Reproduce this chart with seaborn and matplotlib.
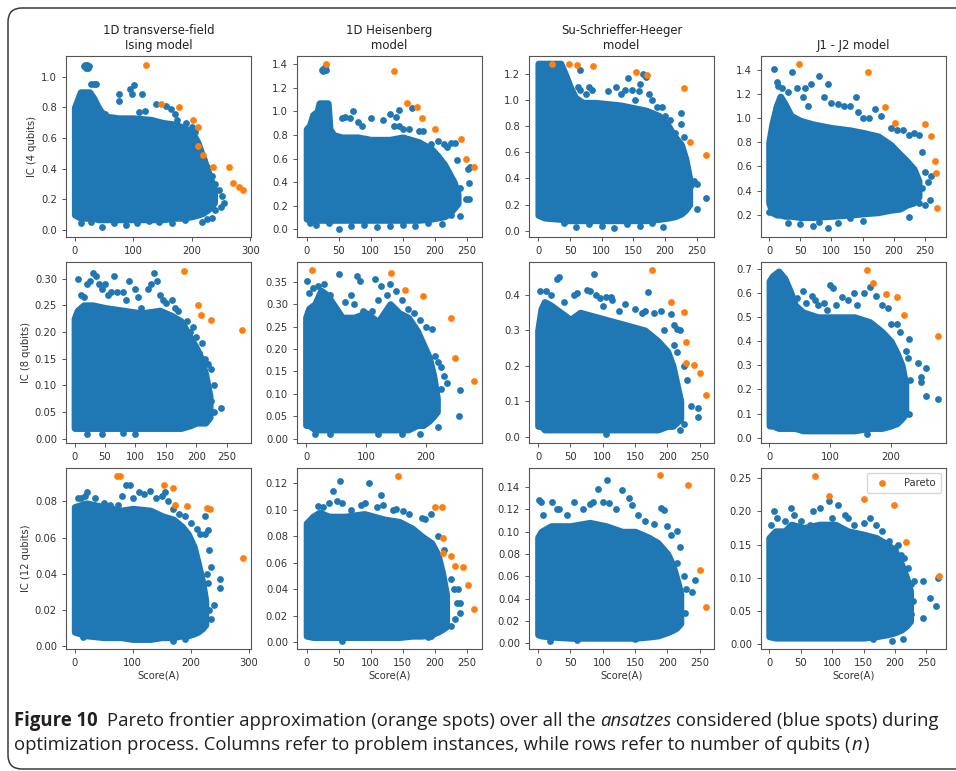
import numpy as np
import pandas as pd
import matplotlib
matplotlib.use("Agg")
import matplotlib.pyplot as plt
import seaborn as sns
from matplotlib import font_manager
from matplotlib.patches import FancyBboxPatch
from matplotlib.transforms import IdentityTransform

# ---------------------------------------------------------------- data
models = ["1D transverse-field\nIsing model", "1D Heisenberg\nmodel",
          "Su-Schrieffer-Heeger\nmodel", "J1 - J2 model"]
row_labels = ["IC (4 qubits)", "IC (8 qubits)", "IC (12 qubits)"]
x_label = "Score(A)"
legend_label = "Pareto"

# dense core of each cloud: (score, IC lower edge, IC upper edge)
ising4_core = [(0, .10, .80), (5, .09, .85), (10, .08, .90), (25, .08, .90), (32, .08, .86),
               (40, .07, .80), (45, .07, .77), (55, .07, .74), (75, .07, .73), (100, .07, .73),
               (130, .07, .72), (150, .07, .70), (170, .08, .69), (185, .08, .67), (200, .09, .64),
               (210, .10, .57), (218, .11, .48), (226, .13, .40), (232, .15, .33), (238, .18, .26)]
heis4_core = [(0, .09, .85), (5, .08, .88), (10, .08, .97), (17, .08, 1.0), (20, .08, 1.07),
              (33, .08, 1.07), (36, .08, .85), (42, .08, .80), (55, .08, .78), (80, .08, .78),
              (100, .08, .76), (130, .08, .76), (150, .08, .78), (175, .08, .74), (195, .09, .68),
              (205, .10, .62), (215, .11, .55), (222, .13, .48), (230, .18, .40), (236, .22, .30)]
ssh4_core = [(0, .12, 1.28), (10, .10, 1.28), (35, .09, 1.28), (42, .08, 1.20), (50, .08, 1.10),
             (58, .08, 1.02), (70, .08, .98), (90, .08, .98), (110, .08, .97), (130, .08, .96),
             (150, .08, .94), (170, .08, .92), (190, .09, .88), (205, .10, .80), (215, .11, .72),
             (225, .13, .66), (232, .16, .55), (238, .20, .40)]
j4_core = [(0, .30, .80), (5, .22, .95), (12, .20, 1.10), (18, .20, 1.18), (25, .19, 1.12),
           (35, .19, 1.02), (50, .18, .98), (70, .18, .95), (100, .19, .92), (130, .20, .90),
           (150, .21, .88), (175, .22, .85), (195, .24, .78), (210, .25, .70), (220, .28, .65),
           (232, .30, .58), (240, .35, .48)]
ising8_core = [(0, .02, .225), (5, .02, .24), (15, .02, .25), (30, .02, .25), (50, .02, .245),
               (80, .02, .24), (110, .02, .235), (140, .02, .24), (160, .02, .23), (175, .02, .22),
               (190, .025, .19), (200, .03, .17), (208, .03, .15), (215, .03, .12), (222, .04, .08)]
heis8_core = [(0, .03, .27), (5, .03, .29), (15, .02, .30), (25, .02, .33), (35, .02, .32),
              (45, .02, .30), (60, .02, .27), (80, .02, .27), (100, .02, .28), (120, .02, .26),
              (140, .02, .30), (155, .02, .28), (170, .02, .27), (185, .03, .24), (195, .03, .21),
              (205, .04, .18), (212, .05, .14), (218, .06, .09)]
ssh8_core = [(0, .03, .30), (5, .03, .36), (10, .02, .38), (20, .02, .37), (35, .02, .35),
             (50, .02, .33), (65, .02, .35), (85, .02, .34), (105, .02, .33), (125, .02, .32),
             (145, .02, .31), (165, .02, .30), (185, .02, .27), (200, .03, .24), (208, .03, .20),
             (214, .04, .15), (220, .05, .10)]
j8_core = [(0, .05, .65), (5, .05, .67), (15, .04, .69), (25, .04, .66), (35, .04, .60),
           (42, .04, .55), (55, .03, .52), (80, .03, .50), (110, .03, .50), (140, .03, .50),
           (165, .04, .48), (185, .04, .44), (200, .05, .40), (210, .06, .35), (218, .08, .30),
           (224, .10, .22)]
ising12_core = [(0, .008, .077), (20, .006, .079), (50, .005, .077), (80, .005, .075),
                (100, .004, .076), (130, .004, .075), (150, .005, .072), (170, .005, .070),
                (185, .006, .066), (195, .006, .062), (205, .007, .055), (212, .008, .046),
                (220, .010, .035), (225, .012, .025)]
heis12_core = [(0, .005, .090), (10, .004, .095), (20, .004, .098), (35, .004, .095),
               (60, .004, .095), (90, .004, .097), (120, .004, .093), (145, .004, .091),
               (165, .005, .086), (180, .005, .080), (195, .006, .075), (205, .008, .066),
               (212, .010, .052), (218, .012, .036)]
ssh12_core = [(0, .008, .095), (5, .007, .100), (20, .006, .105), (50, .005, .105),
              (80, .005, .108), (105, .005, .105), (130, .005, .100), (150, .005, .100),
              (170, .006, .095), (185, .007, .090), (200, .010, .080), (208, .012, .070),
              (214, .014, .058), (220, .018, .045)]
j12_core = [(0, .012, .16), (10, .010, .17), (25, .010, .17), (35, .010, .18), (55, .010, .175),
            (80, .010, .18), (105, .010, .18), (125, .010, .17), (150, .010, .165),
            (170, .012, .16), (188, .015, .15), (200, .018, .14), (210, .022, .12),
            (218, .028, .10), (224, .035, .08)]

# scattered ansatzes outside the dense core: (score, IC)
ising4_blue = [(15, 1.07), (18, 1.08), (21, 1.08), (24, 1.07), (19, 1.06), (23, 1.06),
               (28, .955), (33, .955), (37, .955), (44, .77), (52, .76), (75, .89), (75, .84),
               (95, .92), (101, .95), (98, .89), (115, .89), (110, .77), (120, .78), (138, .82),
               (155, .81), (164, .79), (172, .76), (175, .72), (190, .70), (200, .67), (206, .64),
               (203, .58), (212, .52), (220, .455), (226, .41), (235, .35), (240, .30), (246, .26),
               (252, .22), (255, .18), (249, .15), (240, .13), (235, .08), (226, .07),
               (10, .044), (27, .054), (47, .021), (67, .044), (87, .032), (106, .044), (126, .06),
               (144, .054), (166, .044), (189, .065), (218, .054)]
heis4_blue = [(25, 1.36), (28, 1.38), (30, 1.35), (26, 1.34), (24, 1.35), (55, .94), (60, .95),
              (68, .94), (73, 1.0), (80, .91), (87, .88), (100, .94), (120, .93), (130, .98),
              (140, .95), (145, 1.01), (136, .88), (145, .88), (150, .85), (165, 1.03), (160, .85),
              (175, .83), (182, .83), (195, .72), (205, .75), (215, .72), (220, .70), (225, .73),
              (232, .73), (235, .59), (252, .51), (256, .53), (254, .39), (240, .35), (249, .26),
              (253, .26), (239, .11), (225, .12), (212, .045), (5, .05), (15, .04), (35, .05),
              (50, .0), (70, .03), (90, .04), (110, .02), (130, .03), (150, .04), (170, .03),
              (190, .05)]
ssh4_blue = [(66, 1.23), (62, 1.10), (66, 1.08), (75, 1.05), (80, 1.10), (85, 1.08), (110, 1.07),
             (122, 1.10), (130, 1.05), (136, 1.08), (142, 1.17), (148, 1.08), (158, 1.07),
             (160, 1.12), (165, 1.20), (170, 1.18), (152, 1.0), (175, 1.05), (180, 1.0), (187, .95),
             (195, .95), (200, .88), (207, .85), (215, .75), (225, .90), (225, .82), (230, .72),
             (245, .38), (250, .36), (250, .17), (264, .25), (240, .35), (235, .25),
             (5, .12), (10, .11), (18, .10), (40, .06), (60, .03), (80, .05), (100, .04),
             (120, .02), (140, .05), (160, .04), (180, .06), (196, .03)]
j4_blue = [(8, 1.41), (12, 1.30), (15, 1.27), (20, 1.25), (30, 1.22), (37, 1.38), (45, 1.25),
           (55, 1.18), (58, 1.25), (62, 1.10), (68, 1.28), (80, 1.35), (88, 1.18), (95, 1.28),
           (100, 1.13), (110, 1.12), (120, 1.10), (130, 1.10), (140, 1.18), (143, 1.05), (150, 1.0),
           (160, 1.0), (170, 1.08), (180, 1.02), (195, .92), (205, .90), (215, .90), (225, .86),
           (232, .88), (240, .86), (245, .72), (250, .55), (255, .47), (260, .52), (258, .32),
           (250, .28), (240, .30), (225, .18), (245, .42), (30, .13), (50, .12), (70, .11),
           (80, .14), (95, .09), (110, .13), (130, .17), (150, .15), (0, .22), (5, .25)]
ising8_blue = [(5, .30), (10, .27), (15, .265), (20, .29), (25, .295), (30, .31), (35, .305),
               (40, .29), (45, .28), (50, .29), (55, .27), (60, .275), (65, .305), (70, .275),
               (80, .275), (85, .26), (90, .295), (100, .28), (105, .265), (110, .245), (120, .28),
               (125, .29), (130, .31), (135, .295), (140, .27), (145, .26), (150, .255), (160, .26),
               (165, .245), (170, .24), (185, .22), (190, .20), (195, .21), (200, .19), (205, .16),
               (210, .18), (215, .15), (220, .14), (225, .13), (230, .10), (225, .07), (230, .05),
               (240, .058), (215, .035), (20, .008), (45, .008), (100, .008), (80, .01)]
heis8_blue = [(2, .352), (5, .325), (12, .335), (20, .34), (30, .345), (35, .32), (40, .32),
              (55, .367), (65, .305), (75, .32), (80, .30), (85, .362), (90, .352), (95, .285),
              (110, .285), (115, .355), (120, .31), (125, .34), (135, .32), (140, .345), (150, .33),
              (160, .31), (170, .29), (180, .28), (190, .265), (200, .25), (210, .245), (215, .185),
              (220, .17), (225, .16), (230, .14), (235, .125), (225, .11), (257, .109), (255, .051),
              (220, .025), (215, .06), (190, .01), (160, .01), (120, .01), (15, .01), (40, .01)]
ssh8_blue = [(3, .41), (12, .41), (20, .40), (30, .445), (33, .45), (40, .38), (55, .40), (60, .405),
             (75, .415), (80, .41), (87, .46), (90, .40), (95, .39), (100, .37), (105, .395),
             (112, .395), (115, .385), (125, .355), (135, .375), (150, .36), (160, .35), (165, .355),
             (170, .407), (180, .35), (190, .355), (195, .30), (205, .345), (210, .315), (215, .305),
             (220, .30), (210, .26), (215, .24), (225, .20), (230, .16), (236, .087), (247, .08),
             (247, .055), (225, .035), (220, .02), (105, .007)]
j8_blue = [(45, .58), (55, .61), (60, .56), (70, .59), (75, .57), (80, .55), (90, .56), (95, .53),
           (100, .635), (105, .62), (110, .55), (120, .585), (130, .57), (140, .60), (145, .55),
           (155, .60), (165, .625), (175, .59), (185, .55), (195, .54), (200, .47), (210, .47),
           (215, .44), (225, .36), (230, .41), (228, .33), (220, .22), (232, .24), (245, .31),
           (250, .25), (250, .23), (258, .29), (258, .175), (277, .16), (230, .10), (160, .015)]
ising12_blue = [(5, .082), (10, .082), (18, .083), (22, .085), (35, .082), (50, .079), (60, .078),
                (75, .078), (82, .083), (88, .089), (95, .089), (100, .082), (110, .085),
                (120, .084), (130, .086), (140, .082), (150, .083), (155, .085), (160, .080),
                (170, .076), (180, .073), (190, .072), (200, .068), (210, .065), (215, .062),
                (225, .072), (225, .062), (230, .064), (232, .053), (235, .044), (228, .040),
                (230, .035), (250, .037), (250, .032), (240, .023), (232, .020), (235, .015),
                (215, .010), (190, .004), (170, .003), (15, .005)]
heis12_blue = [(3, .091), (10, .095), (18, .103), (25, .102), (35, .105), (42, .114), (48, .107),
               (52, .122), (55, .105), (70, .100), (85, .104), (92, .105), (97, .120), (110, .102),
               (117, .111), (120, .104), (135, .100), (140, .101), (150, .099), (160, .097),
               (180, .094), (185, .093), (195, .097), (205, .080), (215, .070), (225, .048),
               (230, .040), (237, .040), (235, .030), (240, .030), (240, .022), (232, .018),
               (225, .012), (210, .010), (195, .005), (190, .004), (55, .001)]
ssh12_blue = [(2, .128), (5, .127), (8, .115), (22, .127), (30, .120), (32, .120), (45, .115),
              (55, .127), (70, .120), (80, .125), (85, .127), (92, .138), (100, .127), (106, .146),
              (110, .126), (120, .120), (130, .137), (140, .130), (145, .124), (155, .115),
              (165, .110), (180, .107), (190, .121), (195, .119), (200, .105), (205, .097),
              (215, .101), (220, .086), (215, .072), (225, .060), (238, .046), (229, .049),
              (243, .057), (227, .027), (215, .020), (200, .013), (150, .004), (60, .003), (18, .002)]
j12_blue = [(3, .18), (7, .20), (12, .19), (25, .185), (35, .205), (40, .195), (50, .185),
            (55, .175), (65, .18), (70, .20), (80, .205), (95, .215), (100, .19), (110, .21),
            (120, .195), (125, .19), (135, .18), (150, .183), (160, .19), (170, .18), (180, .17),
            (190, .155), (200, .145), (205, .15), (210, .135), (215, .13), (220, .115), (215, .10),
            (225, .09), (230, .095), (245, .095), (255, .07), (265, .058), (268, .10), (245, .04),
            (228, .065), (220, .05), (225, .045), (212, .008), (195, .005), (165, .008)]

# Pareto frontier approximation: (score, IC)
ising4_pareto = [(121, 1.08), (148, .82), (178, .80), (202, .72), (210, .67), (211, .55),
                 (219, .49), (236, .41), (263, .41), (271, .31), (281, .28), (287, .26)]
heis4_pareto = [(31, 1.405), (137, 1.343), (157, 1.074), (173, 1.04), (181, .94), (200, .853),
                (241, .77), (249, .594), (261, .53)]
ssh4_pareto = [(21.6, 1.276), (48, 1.276), (60.6, 1.27), (86.8, 1.26), (153.7, 1.218),
               (172, 1.19), (230, 1.09), (239.4, .68), (264.7, .58)]
j4_pareto = [(47.6, 1.449), (158.8, 1.38), (186.6, 1.09), (201.7, .958), (250.8, .949),
             (260, .852), (267, .643), (268.5, .543), (269.6, .258)]
ising8_pareto = [(179.8, .315), (202.8, .251), (208, .232), (223.6, .222), (276, .204)]
heis8_pareto = [(9.4, .3756), (141.7, .3696), (164.7, .331), (195.5, .318), (240.6, .269),
                (248.8, .179), (279, .129)]
ssh8_pareto = [(175.4, .47), (205.7, .381), (225.8, .352), (228, .268), (229.4, .207),
               (240.7, .203), (250, .181), (259.3, .118)]
j8_pareto = [(161.5, .695), (171.4, .64), (192.9, .597), (209.8, .582), (221.9, .51), (277, .423)]
ising12_pareto = [(73.3, .0942), (78, .0939), (154, .0893), (170, .0872), (173.5, .0782),
                  (193, .0774), (227.4, .0763), (233, .0758), (289, .049)]
heis12_pareto = [(142.6, .1258), (200, .1024), (212, .1019), (213.2, .0789), (213, .0675),
                 (226, .0652), (232.4, .0574), (243.8, .0569), (252.6, .0435), (261.5, .0253)]
ssh12_pareto = [(188.8, .1505), (232.5, .142), (250, .0656), (259.3, .0328)]
j12_pareto = [(73.2, .2535), (95.7, .2224), (150.3, .2184), (198.5, .2088), (216.8, .154),
              (269.8, .102)]

# axis ranges and ticks
x_limits = [[(-15, 301), (-15, 274), (-14.7, 277), (-13, 284)],
            [(-14, 290), (-15, 293), (-14, 272), (-14, 291)],
            [(-15, 303.5), (-15, 274), (-14, 272), (-13, 281)]]
y_limits = [[(-.045, 1.136), (-.065, 1.47), (-.048, 1.338), (.015, 1.516)],
            [(-.008, .331), (-.01, .394), (-.018, .493), (-.022, .729)],
            [(-.0015, .0985), (-.005, .1317), (-.005, .157), (-.007, .265)]]
x_ticks = [[[0, 100, 200, 300], [0, 50, 100, 150, 200, 250], [0, 50, 100, 150, 200, 250], [0, 50, 100, 150, 200, 250]],
           [[0, 50, 100, 150, 200, 250], [0, 100, 200], [0, 50, 100, 150, 200, 250], [0, 100, 200]],
           [[0, 100, 200, 300], [0, 50, 100, 150, 200, 250], [0, 50, 100, 150, 200, 250], [0, 50, 100, 150, 200, 250]]]
y_ticks = [[[0, .2, .4, .6, .8, 1.0], [0, .2, .4, .6, .8, 1.0, 1.2, 1.4],
            [0, .2, .4, .6, .8, 1.0, 1.2], [.2, .4, .6, .8, 1.0, 1.2, 1.4]],
           [[0, .05, .10, .15, .20, .25, .30], [0, .05, .10, .15, .20, .25, .30, .35],
            [0, .1, .2, .3, .4], [0, .1, .2, .3, .4, .5, .6, .7]],
           [[0, .02, .04, .06, .08], [0, .02, .04, .06, .08, .10, .12],
            [0, .02, .04, .06, .08, .10, .12, .14], [0, .05, .10, .15, .20, .25]]]

cores = [[ising4_core, heis4_core, ssh4_core, j4_core],
         [ising8_core, heis8_core, ssh8_core, j8_core],
         [ising12_core, heis12_core, ssh12_core, j12_core]]
blues = [[ising4_blue, heis4_blue, ssh4_blue, j4_blue],
         [ising8_blue, heis8_blue, ssh8_blue, j8_blue],
         [ising12_blue, heis12_blue, ssh12_blue, j12_blue]]
paretos = [[ising4_pareto, heis4_pareto, ssh4_pareto, j4_pareto],
           [ising8_pareto, heis8_pareto, ssh8_pareto, j8_pareto],
           [ising12_pareto, heis12_pareto, ssh12_pareto, j12_pareto]]

# caption pieces: (text, weight, style)
caption_line1 = [("Figure 10", "bold", "normal"),
                 ("Pareto frontier approximation (orange spots) over all the", "normal", "normal"),
                 ("ansatzes", "normal", "italic"),
                 ("considered (blue spots) during", "normal", "normal")]
caption_line2 = [("optimization process. Columns refer to problem instances, while rows refer "
                  "to number of qubits (", "normal", "normal"), ("n", "normal", "italic"),
                 (")", "normal", "normal")]

# ---------------------------------------------------------------- style
BLUE = "#1f77b4"
ORANGE = "#ff7f0e"
DOT_S = 24          # marker area (pt^2)
DOT_D = DOT_S ** .5  # marker diameter (pt)
W, H = 956, 771


def has_styles(fam):
    ents = [f for f in font_manager.fontManager.ttflist if f.name == fam]
    bold = any((f.weight if isinstance(f.weight, int) else 400) >= 600 or f.weight == "bold"
               for f in ents)
    ital = any(f.style == "italic" for f in ents)
    return bool(ents) and bold and ital


sns.set_style("ticks")
cap_font = next((f for f in ["Noto Sans", "Open Sans", "Liberation Sans", "DejaVu Sans"]
                 if has_styles(f)), "DejaVu Sans")
plt.rcParams.update({
    "font.family": ["DejaVu Sans"],
    "font.size": 7.2,
    "axes.edgecolor": "#555555",
    "axes.linewidth": 0.8,
    "xtick.color": "#555555",
    "ytick.color": "#555555",
    "xtick.labelcolor": "#333333",
    "ytick.labelcolor": "#333333",
    "xtick.labelsize": 7.2,
    "ytick.labelsize": 7.2,
    "xtick.major.size": 3.0,
    "ytick.major.size": 3.0,
    "xtick.major.width": 0.7,
    "ytick.major.width": 0.7,
    "axes.titlesize": 8.4,
    "axes.labelsize": 7.2,
    "axes.labelcolor": "#333333",
    "text.color": "#333333",
})

fig = plt.figure(figsize=(W / 100, H / 100), dpi=100)
fig.patch.set_facecolor("white")

col_left = [66, 297, 529, 761]
row_top = [56, 262, 468]
ax_w, ax_h = 185, 181

for r in range(3):
    for c in range(4):
        ax = fig.add_axes([col_left[c] / W, 1 - (row_top[r] + ax_h) / H, ax_w / W, ax_h / H])
        core = np.array(cores[r][c], dtype=float)
        ax.fill_between(core[:, 0], core[:, 1], core[:, 2], color=BLUE, edgecolor=BLUE,
                        linewidth=DOT_D, joinstyle="round", zorder=1)
        bdf = pd.DataFrame(blues[r][c], columns=["score", "ic"])
        sns.scatterplot(data=bdf, x="score", y="ic", color=BLUE, s=DOT_S, linewidth=0,
                        ax=ax, zorder=2, legend=False)
        pdf = pd.DataFrame(paretos[r][c], columns=["score", "ic"])
        is_leg = (r == 2 and c == 3)
        sns.scatterplot(data=pdf, x="score", y="ic", color=ORANGE, s=DOT_S, linewidth=0,
                        ax=ax, zorder=3, label=legend_label if is_leg else None)
        ax.set_xlim(*x_limits[r][c])
        ax.set_ylim(*y_limits[r][c])
        ax.set_xticks(x_ticks[r][c])
        ax.set_yticks(y_ticks[r][c])
        ax.set_xlabel(x_label if r == 2 else "", labelpad=2)
        ax.set_ylabel(row_labels[r] if c == 0 else "", labelpad=3)
        if r == 0:
            ax.set_title(models[c], pad=5, color="#222222")
        if is_leg:
            ax.legend(loc="upper right", fontsize=7.2, frameon=True, borderpad=0.5,
                      handletextpad=1.2, markerscale=1.0)
        elif ax.get_legend() is not None:
            ax.get_legend().remove()

# outer rounded frame
frame = FancyBboxPatch((8, 2), 1000, H - 10, boxstyle="round,pad=0,rounding_size=14",
                       transform=IdentityTransform(), facecolor="none",
                       edgecolor="#3c3c3c", linewidth=1.1)
fig.patches.append(frame)

# ---------------------------------------------------------------- caption
renderer = fig.canvas.get_renderer()
CAP_COLOR = "#231f20"
X0, X1_END = 14, 940
BASE1, BASE2 = 726, 750


def put(txt, x, base, size, weight, style):
    return fig.text(x / W, 1 - base / H, txt, family=cap_font, fontsize=size,
                    fontweight=weight, fontstyle=style, color=CAP_COLOR,
                    va="baseline", ha="left")


def width(txt, size, weight, style):
    t = put(txt, 0, 0, size, weight, style)
    w = t.get_window_extent(renderer).width
    t.remove()
    return w


def space_w(size):
    return width("a a", size, "normal", "normal") - width("aa", size, "normal", "normal")


def line_width(pieces, size, first_extra):
    sp = space_w(size)
    return (sum(width(t, size, w, s) for t, w, s in pieces)
            + sp * (len(pieces) - 1) + first_extra * sp)


size = 10.0
size = size * (X1_END - X0) / line_width(caption_line1, size, 1.0)
sp = space_w(size)

x = X0
for i, (t, w, s) in enumerate(caption_line1):
    put(t, x, BASE1, size, w, s)
    x += width(t, size, w, s) + sp * (2.0 if i == 0 else 1.0)

x = X0
for t, w, s in caption_line2:
    put(t, x, BASE2, size, w, s)
    x += width(t, size, w, s) + 1.0

fig.savefig("out.png", dpi=100, facecolor="white")
